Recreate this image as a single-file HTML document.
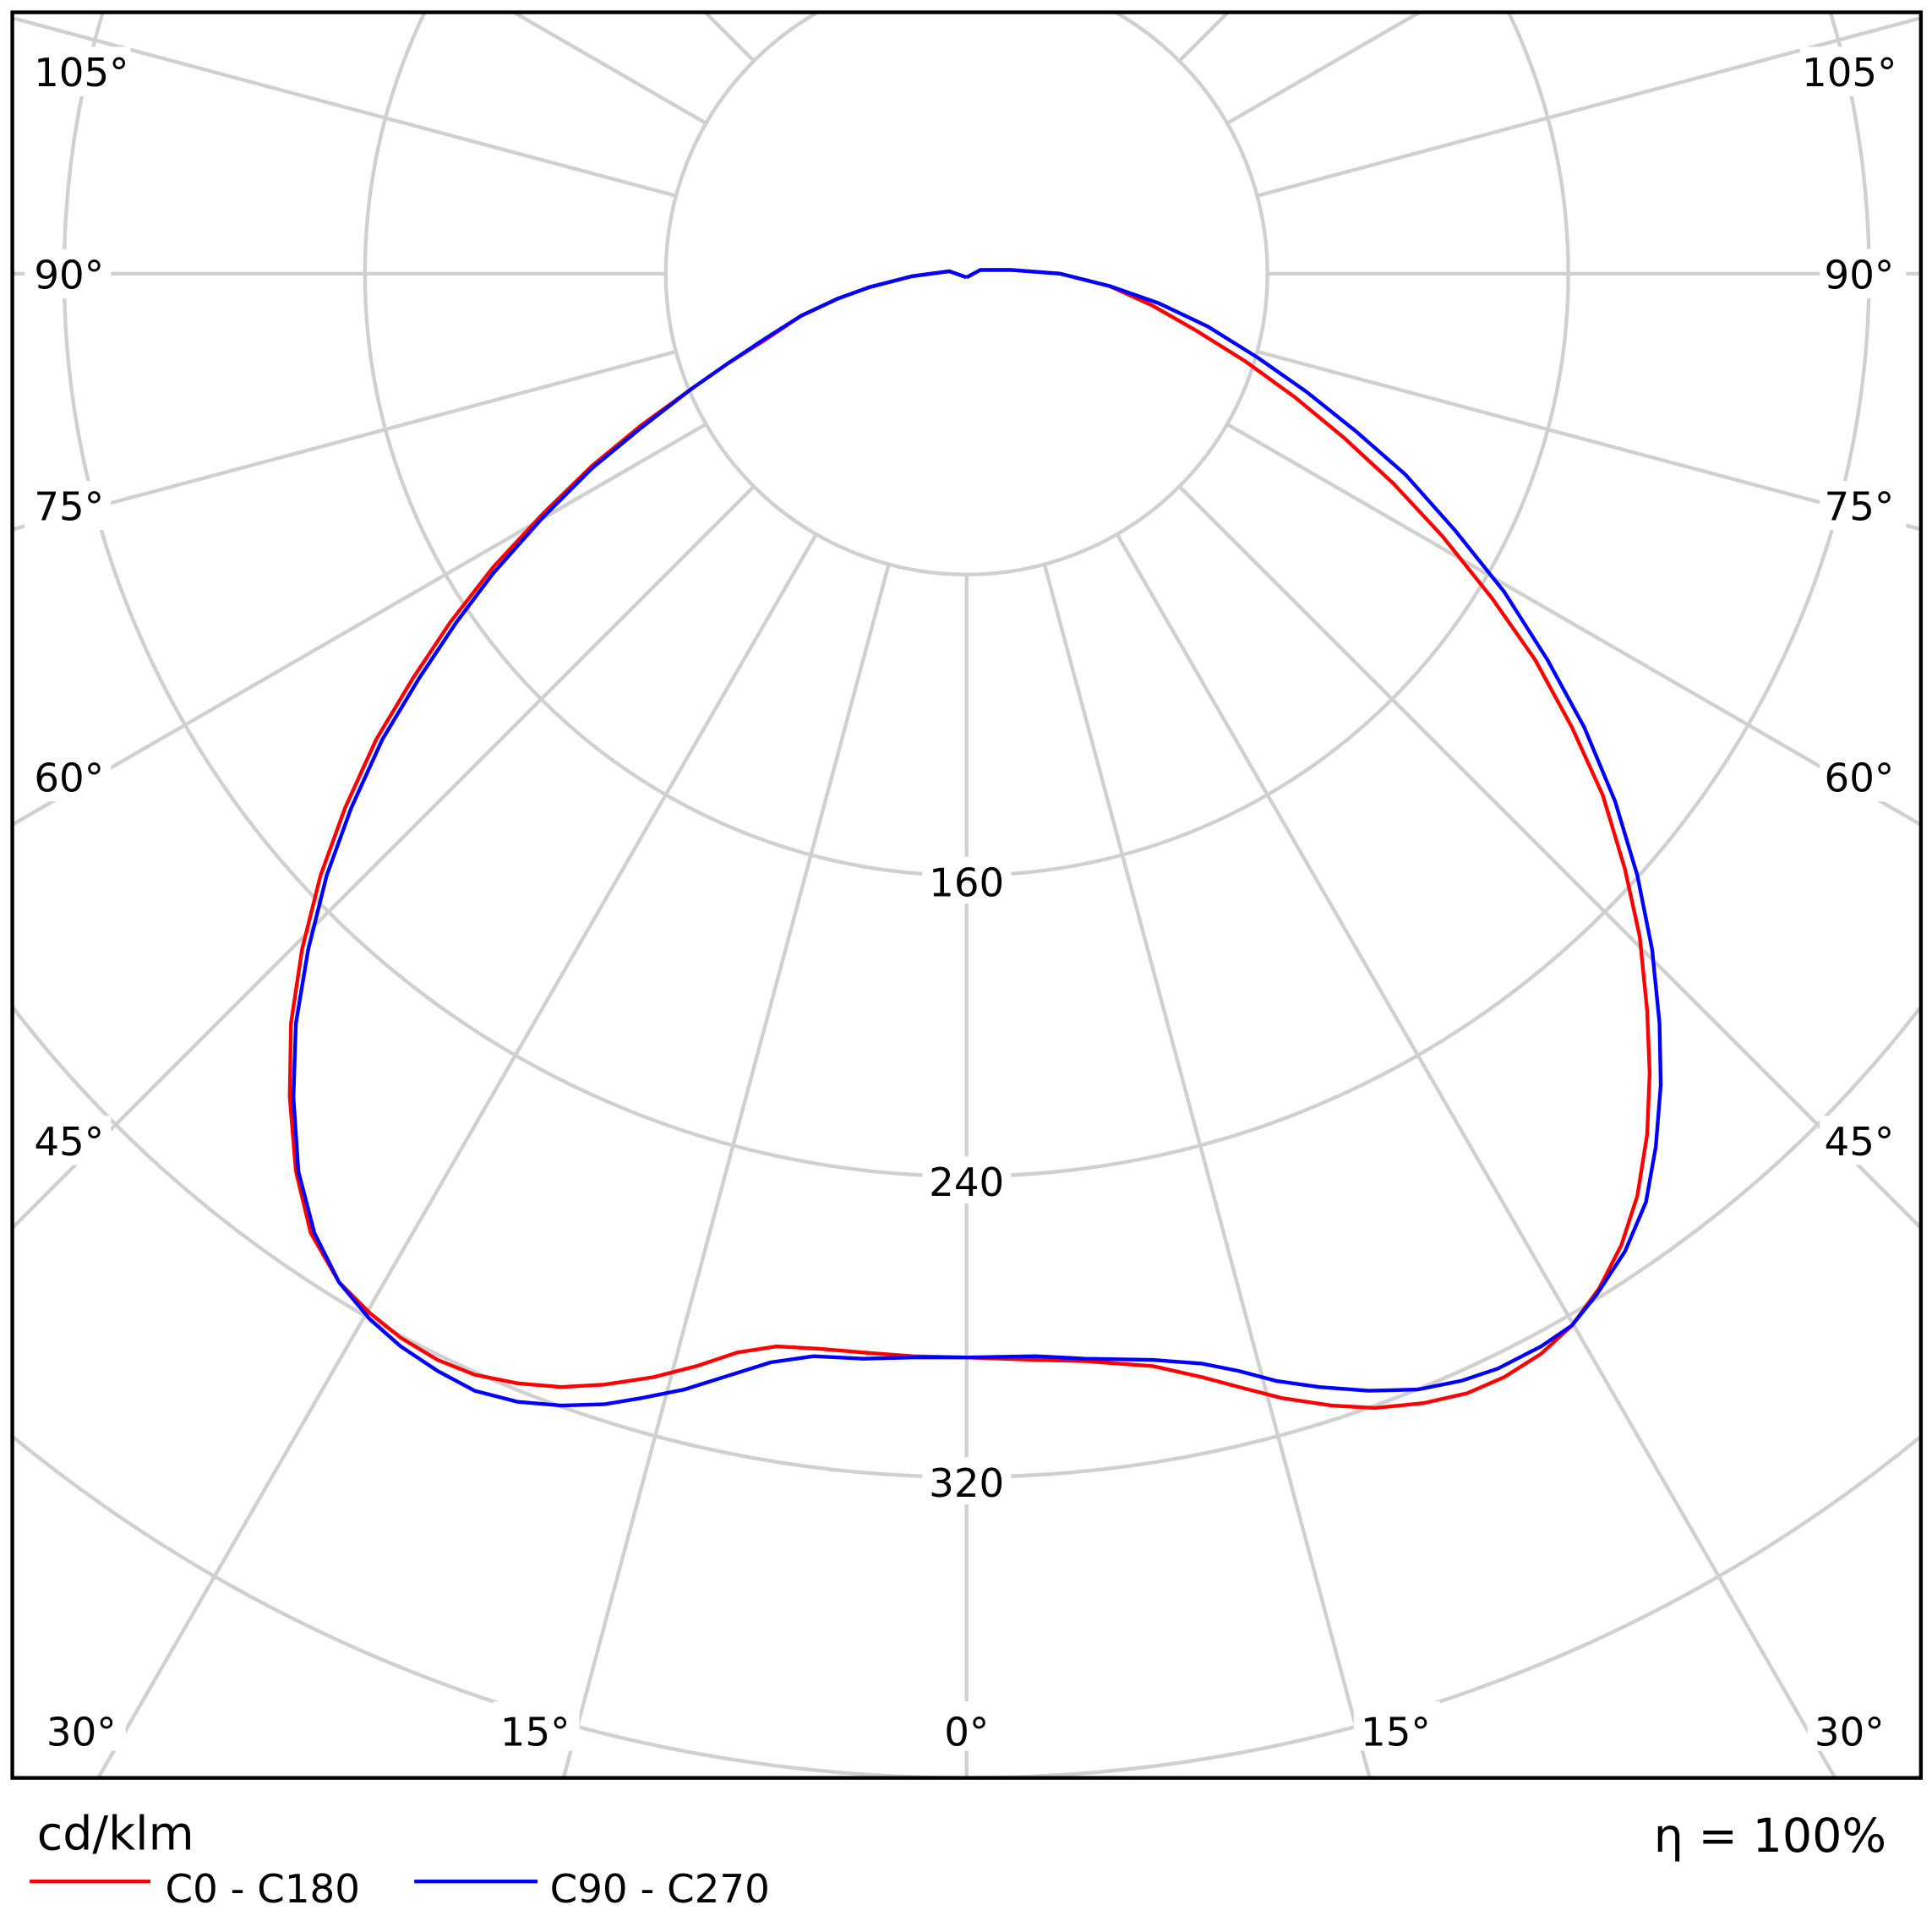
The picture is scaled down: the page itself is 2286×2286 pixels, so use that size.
<!DOCTYPE html>
<html><head><meta charset="utf-8"><style>
html,body{margin:0;padding:0;background:#fff;width:2286px;height:2286px;overflow:hidden;}
svg{display:block;}
text{font-family:"DejaVu Sans","Liberation Sans",sans-serif;fill:#000;}
</style></head><body>
<svg width="2286" height="2286" viewBox="0 0 1567 1567" xmlns="http://www.w3.org/2000/svg">
<defs><clipPath id="c"><rect x="10" y="10" width="1548" height="1432"/></clipPath></defs>
<rect width="1567" height="1567" fill="#fff"/>
<g clip-path="url(#c)" stroke="#d0d0d0" stroke-width="3" fill="none">
<circle cx="784" cy="222" r="244"/>
<circle cx="784" cy="222" r="488"/>
<circle cx="784" cy="222" r="732"/>
<circle cx="784" cy="222" r="976"/>
<circle cx="784" cy="222" r="1220"/>
<line x1="784" y1="466" x2="784" y2="1450"/>
<line x1="784" y1="466" x2="784" y2="1500" transform="rotate(15 784 222)"/>
<line x1="784" y1="466" x2="784" y2="1640" transform="rotate(30 784 222)"/>
<line x1="784" y1="466" x2="784" y2="1640" transform="rotate(45 784 222)"/>
<line x1="784" y1="466" x2="784" y2="1640" transform="rotate(60 784 222)"/>
<line x1="784" y1="466" x2="784" y2="1640" transform="rotate(75 784 222)"/>
<line x1="784" y1="466" x2="784" y2="1640" transform="rotate(90 784 222)"/>
<line x1="784" y1="466" x2="784" y2="1640" transform="rotate(105 784 222)"/>
<line x1="784" y1="466" x2="784" y2="1640" transform="rotate(120 784 222)"/>
<line x1="784" y1="466" x2="784" y2="1640" transform="rotate(135 784 222)"/>
<line x1="784" y1="466" x2="784" y2="1500" transform="rotate(-15 784 222)"/>
<line x1="784" y1="466" x2="784" y2="1640" transform="rotate(-30 784 222)"/>
<line x1="784" y1="466" x2="784" y2="1640" transform="rotate(-45 784 222)"/>
<line x1="784" y1="466" x2="784" y2="1640" transform="rotate(-60 784 222)"/>
<line x1="784" y1="466" x2="784" y2="1640" transform="rotate(-75 784 222)"/>
<line x1="784" y1="466" x2="784" y2="1640" transform="rotate(-90 784 222)"/>
<line x1="784" y1="466" x2="784" y2="1640" transform="rotate(-105 784 222)"/>
<line x1="784" y1="466" x2="784" y2="1640" transform="rotate(-120 784 222)"/>
<line x1="784" y1="466" x2="784" y2="1640" transform="rotate(-135 784 222)"/>
</g>
<g fill="#fff">
<rect x="748" y="695" width="72" height="38"/>
<rect x="748" y="938" width="72" height="38"/>
<rect x="748" y="1182" width="72" height="38"/>
<rect x="20" y="38" width="86" height="40"/><rect x="1460" y="38" width="86" height="40"/>
<rect x="20" y="202" width="70" height="40"/><rect x="1476" y="202" width="70" height="40"/>
<rect x="20" y="390" width="70" height="40"/><rect x="1476" y="390" width="70" height="40"/>
<rect x="20" y="610" width="70" height="40"/><rect x="1476" y="610" width="70" height="40"/>
<rect x="20" y="905" width="70" height="40"/><rect x="1476" y="905" width="70" height="40"/>
<rect x="32" y="1380" width="70" height="40"/><rect x="1466" y="1380" width="70" height="40"/>
<rect x="400" y="1380" width="70" height="40"/><rect x="1098" y="1380" width="70" height="40"/>
<rect x="760" y="1380" width="50" height="40"/>
</g>
<g font-size="32" text-anchor="middle">
<text x="784" y="727">160</text>
<text x="784" y="970">240</text>
<text x="784" y="1214">320</text>
<text x="66" y="70">105°</text><text x="1500" y="70">105°</text>
<text x="56" y="234">90°</text><text x="1508" y="234">90°</text>
<text x="56" y="422">75°</text><text x="1508" y="422">75°</text>
<text x="56" y="642">60°</text><text x="1508" y="642">60°</text>
<text x="56" y="937">45°</text><text x="1508" y="937">45°</text>
<text x="66" y="1416">30°</text><text x="1500" y="1416">30°</text>
<text x="434" y="1416">15°</text><text x="1132" y="1416">15°</text>
<text x="784" y="1416">0°</text>
</g>
<polyline fill="none" stroke="#ff0000" stroke-width="3" stroke-linejoin="round" points="784,225 770,220 740,224 705,233 680,242 650,256 620,276 590,295 560,316 520,345 480,378 440,417 400,460 365,505 335,550 305,600 280,655 260,710 245,770 236,830 235,890 240,950 252,1000 275,1040 300,1065 325,1085 355,1103 385,1115 420,1122 455,1125 490,1123 530,1117 565,1108 598,1097 630,1092 665,1094 700,1097 740,1100 784,1101 840,1103 880,1104 935,1108 975,1117 1005,1125 1040,1134 1080,1140 1115,1142 1155,1138 1190,1130 1220,1117 1250,1098 1275,1075 1297,1045 1315,1010 1328,970 1336,920 1338,870 1336,820 1330,760 1318,705 1300,645 1275,590 1245,535 1210,485 1170,435 1130,392 1090,355 1050,322 1010,293 970,268 935,248 900,232 860,222 820,219 795,219 784,225"/>
<polyline fill="none" stroke="#0000ff" stroke-width="3" stroke-linejoin="round" points="784,225 770,220 740,224 705,233 680,242 650,256 620,275 590,295 560,316 520,347 480,380 440,420 400,465 370,505 340,550 310,600 285,655 265,710 250,770 240,830 238,890 242,950 255,1000 275,1040 300,1070 325,1092 355,1112 385,1128 420,1137 455,1140 490,1139 520,1134 555,1127 590,1116 625,1105 660,1100 700,1102 740,1101 784,1101 840,1100 880,1102 935,1103 975,1106 1005,1112 1035,1120 1070,1125 1110,1128 1150,1127 1185,1120 1215,1110 1250,1092 1275,1075 1295,1050 1318,1015 1335,975 1343,930 1347,880 1346,830 1340,770 1328,710 1310,650 1285,590 1255,535 1220,480 1180,430 1140,385 1100,350 1060,318 1020,290 980,265 940,246 900,232 860,222 820,219 795,219 784,225"/>
<rect x="10" y="10" width="1548" height="1432" fill="none" stroke="#000" stroke-width="3"/>
<text x="30" y="1500" font-size="38">cd/klm</text>
<text x="1530" y="1502" font-size="38" text-anchor="end">η = 100%</text>
<line x1="24" y1="1526" x2="122" y2="1526" stroke="#ff0000" stroke-width="3"/>
<text x="134" y="1543" font-size="32">C0 - C180</text>
<line x1="336" y1="1526" x2="436" y2="1526" stroke="#0000ff" stroke-width="3"/>
<text x="446" y="1543" font-size="32">C90 - C270</text>
</svg>
</body></html>
